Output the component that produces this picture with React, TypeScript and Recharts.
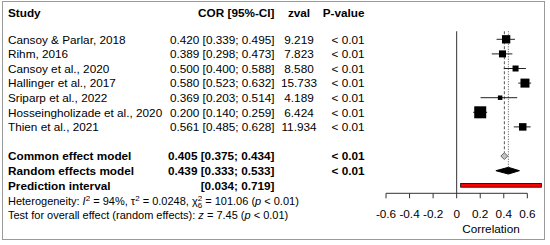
import React from "react";
import {
  ScatterChart, Scatter, XAxis, YAxis, ErrorBar, ReferenceLine, ReferenceArea,
} from "recharts";

// study level data
const studies = [
  "Cansoy & Parlar, 2018",
  "Rihm, 2016",
  "Cansoy et al., 2020",
  "Hallinger et al., 2017",
  "Sriparp et al., 2022",
  "Hosseingholizade et al., 2020",
  "Thien et al., 2021",
];
const cor     = [0.420, 0.389, 0.500, 0.580, 0.369, 0.200, 0.561];
const lower   = [0.339, 0.298, 0.400, 0.523, 0.203, 0.140, 0.485];
const upper   = [0.495, 0.473, 0.588, 0.632, 0.514, 0.259, 0.628];
const zval    = [9.219, 7.823, 8.580, 15.733, 4.189, 6.424, 11.934];
const pval    = ["< 0.01", "< 0.01", "< 0.01", "< 0.01", "< 0.01", "< 0.01", "< 0.01"];
const weights = [15.2, 10.8, 7.9, 17.8, 4.4, 31.6, 12.3];

// pooled estimates: [estimate, lower, upper]
const commonEffect  = [0.405, 0.375, 0.434];
const randomEffects = [0.439, 0.333, 0.533];
const predInterval  = [0.034, 0.719];
const pooledP       = ["< 0.01", "< 0.01"];

const xTicks = [-0.6, -0.4, -0.2, 0, 0.2, 0.4, 0.6];

// layout
const W = 550;
const H = 245;
const ROW_PX = 14.6;
const ROW1_PX = 39.3;
const PLOT_BOTTOM = 193.3;
const Y_MIN = 1 - ROW1_PX / ROW_PX;
const Y_MAX = 1 + (PLOT_BOTTOM - ROW1_PX) / ROW_PX;
const HEADER_ROW = -0.82;
const COMMON_ROW = studies.length + 2;
const RANDOM_ROW = COMMON_ROW + 1;
const PRED_ROW = COMMON_ROW + 2;
const TOP_ROW = 0.45;
const DIAMOND_H = 0.23;

const FONT = "'Liberation Sans', Arial, sans-serif";
const FS = 11.75;
const COL_STUDY = 8;
const COL_COR = 274.5;
const COL_Z = 299;
const COL_P = 364.5;

const studyData = studies.map((name, i) => ({
  x: cor[i],
  y: i + 1,
  err: [cor[i] - lower[i], upper[i] - cor[i]],
  w: weights[i],
}));

const maxW = Math.max(...weights);
const Box = (props: any) => {
  const { cx, cy, payload } = props;
  const s = 12 * Math.sqrt(payload.w / maxW);
  return <rect x={cx - s / 2} y={cy - s / 2} width={s} height={s} fill="#000" />;
};

const ci = (est: number, lo: number, hi: number) =>
  `${est.toFixed(3)} [${lo.toFixed(3)}; ${hi.toFixed(3)}]`;

const makeDiamond = (est: number, lo: number, hi: number, fill: string, stroke: string) =>
  (props: any) => {
    const { x, y, width, height } = props;
    const mx = x + (width * (est - lo)) / (hi - lo);
    const my = y + height / 2;
    return (
      <polygon
        points={`${x},${my} ${mx},${y} ${x + width},${my} ${mx},${y + height}`}
        fill={fill}
        stroke={stroke}
        strokeWidth={1}
      />
    );
  };

// prediction bar: red fill with a thin black outline
const PredBar = (props: any) => {
  const { x, y, width, height } = props;
  return (
    <rect x={x} y={y} width={width} height={height} fill="#ff0000" stroke="#000" strokeWidth={0.8} />
  );
};

const RowText = (props: any) => {
  const { y, payload } = props;
  const v = payload.value;
  const base = { fontFamily: FONT, fontSize: FS, fill: "#000" };
  if (v === HEADER_ROW) {
    return (
      <g>
        <text {...base} x={COL_STUDY} y={y} dy="0.36em" fontWeight="bold">Study</text>
        <text {...base} x={COL_COR} y={y} dy="0.36em" fontWeight="bold" textAnchor="end">COR [95%-CI]</text>
        <text {...base} x={COL_Z} y={y} dy="0.36em" fontWeight="bold" textAnchor="middle">zval</text>
        <text {...base} x={COL_P} y={y} dy="0.36em" fontWeight="bold" textAnchor="end">P-value</text>
      </g>
    );
  }
  if (v >= 1 && v <= studies.length) {
    const i = v - 1;
    return (
      <g>
        <text {...base} x={COL_STUDY} y={y} dy="0.36em">{studies[i]}</text>
        <text {...base} x={COL_COR} y={y} dy="0.36em" textAnchor="end">{ci(cor[i], lower[i], upper[i])}</text>
        <text {...base} x={COL_Z} y={y} dy="0.36em" textAnchor="middle">{zval[i].toFixed(3)}</text>
        <text {...base} x={COL_P} y={y} dy="0.36em" textAnchor="end">{pval[i]}</text>
      </g>
    );
  }
  if (v === COMMON_ROW || v === RANDOM_ROW) {
    const isCommon = v === COMMON_ROW;
    const e = isCommon ? commonEffect : randomEffects;
    return (
      <g>
        <text {...base} x={COL_STUDY} y={y} dy="0.36em" fontWeight="bold">
          {isCommon ? "Common effect model" : "Random effects model"}
        </text>
        <text {...base} x={COL_COR} y={y} dy="0.36em" fontWeight="bold" textAnchor="end">{ci(e[0], e[1], e[2])}</text>
        <text {...base} x={COL_P} y={y} dy="0.36em" fontWeight="bold" textAnchor="end">
          {pooledP[isCommon ? 0 : 1]}
        </text>
      </g>
    );
  }
  if (v === PRED_ROW) {
    const small = { fontFamily: FONT, fontSize: 11, fill: "#000" };
    return (
      <g>
        <text {...base} x={COL_STUDY} y={y} dy="0.36em" fontWeight="bold">Prediction interval</text>
        <text {...base} x={COL_COR} y={y} dy="0.36em" fontWeight="bold" textAnchor="end">
          {`[${predInterval[0].toFixed(3)}; ${predInterval[1].toFixed(3)}]`}
        </text>
        <text {...small} x={COL_STUDY} y={y + 15.3} dy="0.36em">
          {"Heterogeneity: "}
          <tspan fontStyle="italic">I</tspan>
          <tspan dy={-4} fontSize={8}>2</tspan>
          <tspan dy={4}>{" = 94%, \u03c4"}</tspan>
          <tspan dy={-4} fontSize={8}>2</tspan>
          <tspan dy={4}>{" = 0.0248, \u03c7"}</tspan>
          <tspan dy={-4} fontSize={8}>2</tspan>
          <tspan dx={-4.4} dy={7} fontSize={8}>6</tspan>
          <tspan dy={-3}>{" = 101.06 ("}</tspan>
          <tspan fontStyle="italic">p</tspan>
          <tspan>{" < 0.01)"}</tspan>
        </text>
        <text {...small} x={COL_STUDY} y={y + 29.3} dy="0.36em">
          {"Test for overall effect (random effects): "}
          <tspan fontStyle="italic">z</tspan>
          <tspan>{" = 7.45 ("}</tspan>
          <tspan fontStyle="italic">p</tspan>
          <tspan>{" < 0.01)"}</tspan>
        </text>
      </g>
    );
  }
  return <g />;
};

const rowTicks = [
  HEADER_ROW,
  ...studies.map((_, i) => i + 1),
  COMMON_ROW,
  RANDOM_ROW,
  PRED_ROW,
];

export default function App() {
  return (
    <div style={{ position: "absolute", left: 0, top: 0, width: W, height: H, background: "#fff" }}>
      <div
        style={{
          position: "absolute", left: 2, top: 1, width: 541, height: 237,
          border: "1px solid #9a9a9a",
        }}
      />
      <ScatterChart width={W} height={H} margin={{ top: 0, right: 5, bottom: 0, left: 0 }}>
        <XAxis
          type="number"
          dataKey="x"
          domain={[-0.6, 0.75]}
          ticks={xTicks}
          interval={0}
          height={H - PLOT_BOTTOM}
          axisLine={false}
          tickLine={{ stroke: "#333" }}
          tickSize={5}
          tickMargin={11}
          tick={{ fill: "#000", fontSize: FS, fontFamily: FONT }}
          tickFormatter={(v: number) => (v === 0 ? "0" : v.toFixed(1))}
          label={{
            value: "Correlation",
            position: "insideBottom",
            offset: 12,
            dx: 25.5,
            fill: "#000",
            fontSize: FS,
            fontFamily: FONT,
          }}
        />
        <YAxis
          type="number"
          dataKey="y"
          domain={[Y_MIN, Y_MAX]}
          reversed
          width={386}
          ticks={rowTicks}
          interval={0}
          axisLine={false}
          tickLine={false}
          tick={RowText}
        />

        {/* axis line, no-effect line, pooled estimate lines */}
        <ReferenceLine
          segment={[{ x: xTicks[0], y: Y_MAX }, { x: xTicks[xTicks.length - 1], y: Y_MAX }]}
          stroke="#333"
        />
        <ReferenceLine segment={[{ x: 0, y: TOP_ROW }, { x: 0, y: Y_MAX }]} stroke="#333" />
        <ReferenceLine
          segment={[{ x: commonEffect[0], y: TOP_ROW }, { x: commonEffect[0], y: COMMON_ROW - DIAMOND_H }]}
          stroke="#555"
          strokeDasharray="3 2"
        />
        <ReferenceLine
          segment={[{ x: randomEffects[0], y: TOP_ROW }, { x: randomEffects[0], y: RANDOM_ROW - DIAMOND_H }]}
          stroke="#555"
          strokeDasharray="1 1.5"
        />

        {/* pooled diamonds and prediction interval */}
        <ReferenceArea
          x1={commonEffect[1]} x2={commonEffect[2]}
          y1={COMMON_ROW - DIAMOND_H} y2={COMMON_ROW + DIAMOND_H}
          shape={makeDiamond(commonEffect[0], commonEffect[1], commonEffect[2], "#c4c4c4", "#666")}
        />
        <ReferenceArea
          x1={randomEffects[1]} x2={randomEffects[2]}
          y1={RANDOM_ROW - DIAMOND_H} y2={RANDOM_ROW + DIAMOND_H}
          shape={makeDiamond(randomEffects[0], randomEffects[1], randomEffects[2], "#000", "#000")}
        />
        <ReferenceArea
          x1={predInterval[0]} x2={predInterval[1]}
          y1={PRED_ROW - 0.13} y2={PRED_ROW + 0.13}
          shape={PredBar}
        />

        <Scatter data={studyData} shape={Box} isAnimationActive={false}>
          <ErrorBar dataKey="err" direction="x" width={0} stroke="#222" strokeWidth={1} isAnimationActive={false} />
        </Scatter>
      </ScatterChart>
    </div>
  );
}
